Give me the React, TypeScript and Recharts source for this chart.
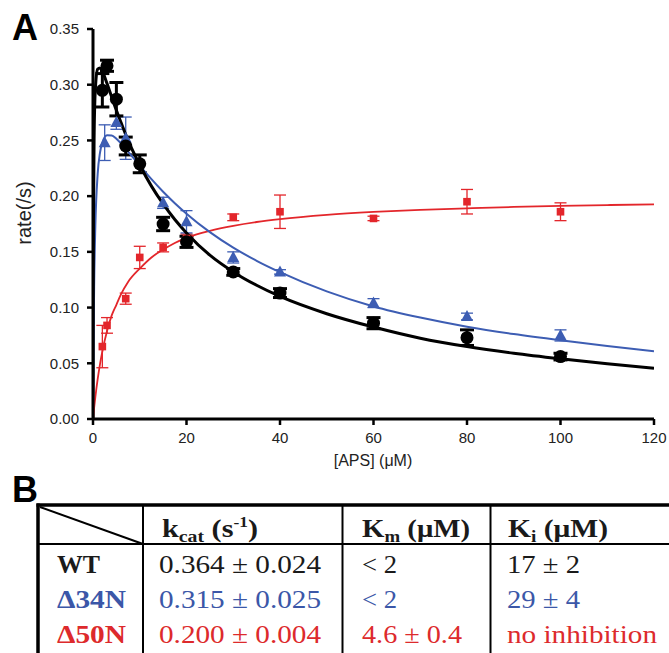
import React from 'react';
import { ScatterChart, Scatter, XAxis, YAxis, ErrorBar } from 'recharts';

// ---- data ----
const xTicks = [0, 20, 40, 60, 80, 100, 120];
const yTicks = [0, 0.05, 0.1, 0.15, 0.2, 0.25, 0.3, 0.35];

// fitted curves (sampled from the figure)
const curveX = [0, 0.1, 0.25, 0.5, 1, 1.5, 2, 3, 4, 5, 6, 7.5, 10, 12.5, 15, 17.5, 20, 25, 30, 35, 40, 50, 60, 70, 80, 90, 100, 110, 120];
const wtFit = [0, 0.18, 0.257, 0.296, 0.314, 0.315, 0.312, 0.301, 0.289, 0.277, 0.266, 0.25, 0.228, 0.209, 0.193, 0.179, 0.167, 0.147, 0.132, 0.12, 0.11, 0.0945, 0.0825, 0.0725, 0.065, 0.059, 0.054, 0.0495, 0.0455];
const d34Fit = [0, 0.063, 0.121, 0.173, 0.22, 0.239, 0.248, 0.2547, 0.2545, 0.2515, 0.2473, 0.24, 0.2275, 0.2153, 0.204, 0.1937, 0.1843, 0.1677, 0.1538, 0.142, 0.1318, 0.1145, 0.101, 0.091, 0.0828, 0.0762, 0.0706, 0.0655, 0.0608];
const d50Fit = [0, 0.0045, 0.0103, 0.0196, 0.0357, 0.0492, 0.0606, 0.0789, 0.093, 0.1025, 0.112, 0.123, 0.135, 0.145, 0.152, 0.158, 0.1626, 0.1689, 0.1734, 0.1768, 0.1794, 0.1832, 0.1858, 0.1877, 0.1891, 0.1903, 0.1912, 0.192, 0.1926];

// measured points
const wtConc = [2, 3, 5, 7, 10, 15, 20, 30, 40, 60, 80, 100];
const wtRate = [0.295, 0.317, 0.287, 0.245, 0.229, 0.175, 0.159, 0.132, 0.113, 0.086, 0.073, 0.056];
const wtErr = [0.015, 0.005, 0.015, 0.008, 0.008, 0.006, 0.005, 0.003, 0.004, 0.005, 0.007, 0.003];

const d34Conc = [2.5, 5, 7, 15, 20, 30, 40, 60, 80, 100];
const d34Rate = [0.248, 0.266, 0.252, 0.194, 0.177, 0.145, 0.132, 0.104, 0.092, 0.075];
const d34Err = [0.016, 0.006, 0.019, 0.005, 0.01, 0.005, 0.002, 0.004, 0.003, 0.005];

const d50Conc = [2, 3, 7, 10, 15, 20, 30, 40, 60, 80, 100];
const d50Rate = [0.065, 0.084, 0.108, 0.145, 0.154, 0.162, 0.181, 0.186, 0.18, 0.195, 0.186];
const d50Err = [0.019, 0.007, 0.005, 0.01, 0.004, 0.004, 0.003, 0.015, 0.002, 0.011, 0.008];

// table
const tableHeaders = ['kcat (s-1)', 'Km (μM)', 'Ki (μM)'];
const rowNames = ['WT', 'Δ34N', 'Δ50N'];
const kcatVals = ['0.364 ± 0.024', '0.315 ± 0.025', '0.200 ± 0.004'];
const kmVals = ['< 2', '< 2', '4.6 ± 0.4'];
const kiVals = ['17 ± 2', '29 ± 4', 'no inhibition'];

const BLACK = '#000000';
const BLUE = '#3d5db3';
const RED = '#e3262b';
const T_BLACK = '#1a1a1a';
const T_BLUE = '#3b57a8';
const T_RED = '#dd2a2c';

const zip = (xs: number[], ys: number[], es?: number[]) =>
  xs.map((x, i) => (es ? { x, y: ys[i], e: es[i] } : { x, y: ys[i] }));

const wtCurve = zip(curveX, wtFit);
const d34Curve = zip(curveX, d34Fit);
const d50Curve = zip(curveX, d50Fit);
const wtPts = zip(wtConc, wtRate, wtErr);
const d34Pts = zip(d34Conc, d34Rate, d34Err);
const d50Pts = zip(d50Conc, d50Rate, d50Err);

const SANS = 'Liberation Sans, Arial, Helvetica, sans-serif';
const SERIF = "'Times New Roman', 'Liberation Serif', Times, serif";

const NoDot = () => <g />;
const Circle = (p: any) => <circle cx={p.cx} cy={p.cy} r={6.5} fill={BLACK} />;
const Tri = (p: any) => (
  <path d={`M${p.cx},${p.cy - 6.5} L${p.cx - 6},${p.cy + 4.5} L${p.cx + 6},${p.cy + 4.5} Z`} fill={BLUE} />
);
const Sq = (p: any) => <rect x={p.cx - 3.8} y={p.cy - 3.8} width={7.6} height={7.6} fill={RED} />;

const XLabel = () => (
  <text x={373} y={466} textAnchor="middle" fontSize={16} fontFamily={SANS} fill="#222">
    [APS] (μM)
  </text>
);
const YLabel = () => (
  <text
    x={24}
    y={213}
    transform="rotate(-90 24 213)"
    textAnchor="middle"
    dominantBaseline="central"
    fontSize={20}
    fontFamily={SANS}
    fill="#222"
  >
    rate(/s)
  </text>
);

const rowColors = [T_BLACK, T_BLUE, T_RED];
const rowBase = [573, 608, 643];

export default function App() {
  return (
    <div style={{ position: 'absolute', left: 0, top: 0, width: 669, height: 653, background: '#fff' }}>
      <ScatterChart width={669} height={480} margin={{ top: 29, right: 15, bottom: 31, left: 0 }}>
        <XAxis
          type="number"
          dataKey="x"
          domain={[0, 120]}
          ticks={xTicks}
          allowDataOverflow
          height={30}
          tickSize={6}
          tickMargin={7}
          axisLine={{ stroke: '#000', strokeWidth: 3 }}
          tickLine={{ stroke: '#000', strokeWidth: 2.5 }}
          tick={{ fill: '#222', fontSize: 15, fontFamily: SANS }}
          label={<XLabel />}
        />
        <YAxis
          type="number"
          dataKey="y"
          domain={[0, 0.35]}
          ticks={yTicks}
          allowDataOverflow
          width={93}
          tickSize={6}
          tickMargin={8}
          tickFormatter={(v: number) => v.toFixed(2)}
          axisLine={{ stroke: '#000', strokeWidth: 3 }}
          tickLine={{ stroke: '#000', strokeWidth: 2.5 }}
          tick={{ fill: '#222', fontSize: 15, fontFamily: SANS }}
          label={<YLabel />}
        />
        <Scatter data={d50Curve} line={{ stroke: RED, strokeWidth: 1.8 }} lineType="joint" lineJointType="monotoneX" shape={NoDot} isAnimationActive={false} />
        <Scatter data={d34Curve} line={{ stroke: BLUE, strokeWidth: 2 }} lineType="joint" lineJointType="monotoneX" shape={NoDot} isAnimationActive={false} />
        <Scatter data={wtCurve} line={{ stroke: BLACK, strokeWidth: 3 }} lineType="joint" lineJointType="monotoneX" shape={NoDot} isAnimationActive={false} />
        <Scatter data={d50Pts} shape={Sq} isAnimationActive={false}>
          <ErrorBar dataKey="e" direction="y" width={6} stroke={RED} strokeWidth={1.3} />
        </Scatter>
        <Scatter data={d34Pts} shape={Tri} isAnimationActive={false}>
          <ErrorBar dataKey="e" direction="y" width={6} stroke={BLUE} strokeWidth={1.3} />
        </Scatter>
        <Scatter data={wtPts} shape={Circle} isAnimationActive={false}>
          <ErrorBar dataKey="e" direction="y" width={7} stroke={BLACK} strokeWidth={3} />
        </Scatter>
      </ScatterChart>

      <svg width={669} height={653} style={{ position: 'absolute', left: 0, top: 0, pointerEvents: 'none' }}>
        <text x={12} y={40} fontSize={36} fontWeight="bold" fontFamily={SANS} fill="#000">A</text>
        <text x={12} y={502} fontSize={36} fontWeight="bold" fontFamily={SANS} fill="#000">B</text>

        {/* table grid */}
        <line x1={36.5} y1={505} x2={669} y2={505} stroke="#000" strokeWidth={3.5} />
        <line x1={38} y1={544} x2={669} y2={544} stroke="#000" strokeWidth={2} />
        <line x1={38} y1={503.5} x2={38} y2={653} stroke="#000" strokeWidth={3.5} />
        <line x1={143} y1={505} x2={143} y2={653} stroke="#000" strokeWidth={2} />
        <line x1={342.5} y1={505} x2={342.5} y2={653} stroke="#000" strokeWidth={2} />
        <line x1={490.5} y1={505} x2={490.5} y2={653} stroke="#000" strokeWidth={2} />
        <line x1={40} y1={507} x2={143} y2={544} stroke="#000" strokeWidth={2} />

        {/* headers */}
        <text x={162} y={537} fontSize={26} fontWeight="bold" style={{ fontFamily: SERIF }} fill={T_BLACK} textLength={96} lengthAdjust="spacingAndGlyphs">
          {tableHeaders[0].slice(0, 1)}
          <tspan fontSize={17} dy={5}>{tableHeaders[0].slice(1, 4)}</tspan>
          <tspan dy={-5}>{tableHeaders[0].slice(4, 7)}</tspan>
          <tspan fontSize={15} dy={-10}>{tableHeaders[0].slice(7, 9)}</tspan>
          <tspan dy={10}>{tableHeaders[0].slice(9)}</tspan>
        </text>
        <text x={362} y={537} fontSize={26} fontWeight="bold" style={{ fontFamily: SERIF }} fill={T_BLACK} textLength={108} lengthAdjust="spacingAndGlyphs">
          {tableHeaders[1].slice(0, 1)}
          <tspan fontSize={17} dy={5}>{tableHeaders[1].slice(1, 2)}</tspan>
          <tspan dy={-5}>{tableHeaders[1].slice(2)}</tspan>
        </text>
        <text x={508} y={537} fontSize={26} fontWeight="bold" style={{ fontFamily: SERIF }} fill={T_BLACK} textLength={100} lengthAdjust="spacingAndGlyphs">
          {tableHeaders[2].slice(0, 1)}
          <tspan fontSize={17} dy={5}>{tableHeaders[2].slice(1, 2)}</tspan>
          <tspan dy={-5}>{tableHeaders[2].slice(2)}</tspan>
        </text>

        {rowNames.map((name, i) => (
          <g key={name} fill={rowColors[i]}>
            <text x={57} y={rowBase[i]} fontSize={26} fontWeight="bold" style={{ fontFamily: SERIF }} textLength={i === 0 ? 43 : 69} lengthAdjust="spacingAndGlyphs">
              {name}
            </text>
            <text x={159} y={rowBase[i]} fontSize={25} style={{ fontFamily: SERIF }} textLength={162} lengthAdjust="spacingAndGlyphs">
              {kcatVals[i]}
            </text>
            <text x={362} y={rowBase[i]} fontSize={25} style={{ fontFamily: SERIF }} textLength={i === 2 ? 100 : 35} lengthAdjust="spacingAndGlyphs">
              {kmVals[i]}
            </text>
            <text x={507} y={rowBase[i]} fontSize={25} style={{ fontFamily: SERIF }} textLength={i === 2 ? 150 : 73} lengthAdjust="spacingAndGlyphs">
              {kiVals[i]}
            </text>
          </g>
        ))}
      </svg>
    </div>
  );
}
